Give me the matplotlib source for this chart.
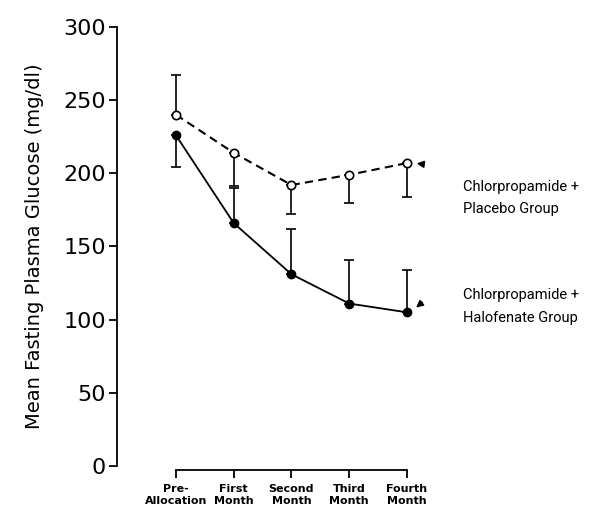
import matplotlib
matplotlib.use("Agg")
import matplotlib.pyplot as plt

categories = ["Pre-\nAllocation", "First\nMonth", "Second\nMonth", "Third\nMonth", "Fourth\nMonth"]
placebo = [240, 214, 192, 199, 207]
placebo_err_up = [27, 0, 0, 0, 0]
placebo_err_down = [0, 23, 20, 19, 23]
halofenate = [226, 166, 131, 111, 105]
halofenate_err_up = [0, 24, 31, 30, 29]
halofenate_err_down = [22, 0, 0, 0, 0]
yticks = [0, 50, 100, 150, 200, 250, 300]

fig = plt.figure(figsize=(5.91, 5.09), dpi=100)
ax = fig.add_axes([0.198, 0.0845, 0.5127, 0.8625])
x = list(range(len(categories)))

ax.errorbar(x, placebo, yerr=[placebo_err_down, placebo_err_up], fmt='none',
            ecolor='black', elinewidth=1.2, capsize=3.5, capthick=1.2, zorder=2)
ax.errorbar(x, halofenate, yerr=[halofenate_err_down, halofenate_err_up], fmt='none',
            ecolor='black', elinewidth=1.2, capsize=3.5, capthick=1.2, zorder=2)
ax.plot(x, placebo, linestyle=(0, (4, 2.5)), color='black', lw=1.5,
        marker='o', markersize=6, markerfacecolor='white', markeredgecolor='black',
        markeredgewidth=1.2, zorder=3)
ax.plot(x, halofenate, linestyle='-', color='black', lw=1.3,
        marker='o', markersize=6, markerfacecolor='black', markeredgecolor='black', zorder=3)

ax.set_xlim(-1.02, 4.225)
ax.set_ylim(0, 300)
ax.spines['top'].set_visible(False)
ax.spines['right'].set_visible(False)
ax.spines['left'].set_bounds(0, 300)
ax.spines['bottom'].set_bounds(0, 4)
ax.spines['bottom'].set_position(('outward', 3))
for s in ['left', 'bottom']:
    ax.spines[s].set_linewidth(1.3)

ax.set_yticks(yticks)
ax.set_yticklabels([str(v) for v in yticks], fontsize=16)
ax.set_xticks(x)
ax.set_xticklabels(categories, fontsize=8, fontweight='bold', linespacing=1.3)
ax.tick_params(axis='y', direction='out', length=6, width=1.3, pad=2)
ax.tick_params(axis='x', direction='out', length=6, width=1.3, pad=4)
ax.set_ylabel("Mean Fasting Plasma Glucose (mg/dl)", fontsize=14, labelpad=14)

ax.text(4.97, 183, "Chlorpropamide +\nPlacebo Group", fontsize=10.5, va='center',
        ha='left', linespacing=1.75, family='Roboto', clip_on=False)
ax.text(4.97, 109, "Chlorpropamide +\nHalofenate Group", fontsize=10.5, va='center',
        ha='left', linespacing=1.75, family='Roboto', clip_on=False)

ax.annotate('', xy=(4.12, 207), xytext=(4.32, 206),
            arrowprops=dict(arrowstyle='-|>', color='black', lw=1.2,
                            mutation_scale=10), annotation_clip=False)
ax.annotate('', xy=(4.12, 107), xytext=(4.3, 113),
            arrowprops=dict(arrowstyle='-|>', color='black', lw=1.2,
                            mutation_scale=10), annotation_clip=False)

fig.savefig("out.png", dpi=100)
